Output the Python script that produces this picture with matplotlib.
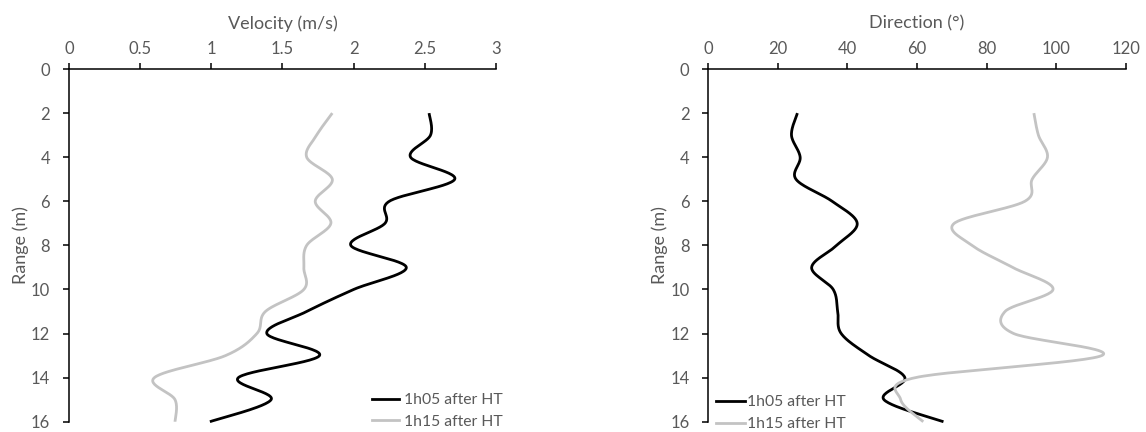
import numpy as np
import matplotlib
matplotlib.use("Agg")
import matplotlib.pyplot as plt
from matplotlib.lines import Line2D

plt.rcParams['font.family'] = ['Lato', 'DejaVu Sans']

# Depth bins (m) and profiles for the two time steps
range_m = [2, 3, 4, 5, 6, 7, 8, 9, 10, 11, 12, 13, 14, 15, 16]

velocity_1h05 = [2.53, 2.54, 2.40, 2.71, 2.25, 2.22, 1.98, 2.37, 2.00, 1.67, 1.39, 1.76, 1.19, 1.42, 0.99]
velocity_1h15 = [1.85, 1.74, 1.67, 1.85, 1.73, 1.84, 1.67, 1.65, 1.65, 1.38, 1.32, 1.10, 0.60, 0.745, 0.745]

direction_1h05 = [25.6, 23.9, 26.4, 25.2, 35.6, 42.8, 36.9, 29.7, 35.9, 37.2, 38.2, 46.2, 56.5, 50.5, 67.6]
direction_1h15 = [93.6, 94.9, 97.5, 93.1, 91.0, 70.7, 75.8, 87.5, 99.1, 85.3, 87.8, 113.1, 59.5, 55.3, 61.8]

series_labels = ["1h05 after HT", "1h15 after HT"]
series_colors = ["#000000", "#C3C3C3"]

velocity_ticks = [0, 0.5, 1, 1.5, 2, 2.5, 3]
direction_ticks = [0, 20, 40, 60, 80, 100, 120]
range_ticks = [0, 2, 4, 6, 8, 10, 12, 14, 16]

TEXT_GREY = "#595959"


def smooth_path(ax, xs, ys, n=30):
    """Cubic Bezier smoothing through the points, computed in display space."""
    pts = ax.transData.transform(np.column_stack([xs, ys]))
    ext = np.vstack([pts[0], pts, pts[-1]])
    out = []
    t = np.linspace(0, 1, n)[:, None]
    for i in range(len(pts) - 1):
        p0, p3 = ext[i + 1], ext[i + 2]
        p1 = p0 + (ext[i + 2] - ext[i]) / 6.0
        p2 = p3 - (ext[i + 3] - ext[i + 1]) / 6.0
        seg = ((1 - t) ** 3) * p0 + 3 * ((1 - t) ** 2) * t * p1 + 3 * (1 - t) * t ** 2 * p2 + t ** 3 * p3
        out.append(seg if i == 0 else seg[1:])
    disp = np.vstack(out)
    data = ax.transData.inverted().transform(disp)
    return data[:, 0], data[:, 1]


def style_axes(ax, xlim, xticks, xlabel):
    ax.set_xlim(*xlim)
    ax.set_ylim(16, 0)
    ax.set_xticks(xticks)
    ax.set_xticklabels([f"{v:g}" for v in xticks])
    ax.set_yticks(range_ticks)
    ax.xaxis.tick_top()
    ax.xaxis.set_label_position("top")
    for s in ("right", "bottom"):
        ax.spines[s].set_visible(False)
    for s in ("left", "top"):
        ax.spines[s].set_linewidth(1.1)
        ax.spines[s].set_color("#000000")
    ax.tick_params(axis="both", direction="out", length=4.5, width=1.1, color="#000000",
                   labelsize=12, labelcolor=TEXT_GREY)
    ax.tick_params(axis="x", pad=4)
    ax.tick_params(axis="y", pad=9)
    ax.set_xlabel(xlabel, fontsize=13, color=TEXT_GREY, labelpad=9)
    ax.set_ylabel("Range (m)", fontsize=13, color=TEXT_GREY, labelpad=1.5)


fig = plt.figure(figsize=(11.46, 4.32), dpi=100)
ax1 = fig.add_axes([0.0602, 0.0238, 0.3726, 0.8164])
ax2 = fig.add_axes([0.6181, 0.0238, 0.3642, 0.8164])

style_axes(ax1, (0, 3), velocity_ticks, "Velocity (m/s)")
style_axes(ax2, (0, 120), direction_ticks, "Direction (°)")

for ax, profiles in ((ax1, (velocity_1h05, velocity_1h15)),
                     (ax2, (direction_1h05, direction_1h15))):
    for vals, color, label in zip(profiles, series_colors, series_labels):
        sx, sy = smooth_path(ax, vals, range_m)
        ax.plot(sx, sy, color=color, lw=2.0, label=label, solid_capstyle="butt", clip_on=False)

handles = [Line2D([], [], color=c, lw=2.0) for c in series_colors]

leg1 = ax1.legend(handles, series_labels, loc="lower right", bbox_to_anchor=(1.03, -0.038),
                  frameon=False, fontsize=11.3, handlelength=1.7, handletextpad=0.3,
                  labelspacing=0.5, borderaxespad=0.0)
leg2 = ax2.legend(handles, series_labels, loc="lower left", bbox_to_anchor=(0.004, -0.045),
                  frameon=False, fontsize=11.3, handlelength=1.8, handletextpad=0.15,
                  labelspacing=0.5, borderaxespad=0.0)
for leg in (leg1, leg2):
    for txt in leg.get_texts():
        txt.set_color(TEXT_GREY)

fig.savefig("out.png", dpi=100)
